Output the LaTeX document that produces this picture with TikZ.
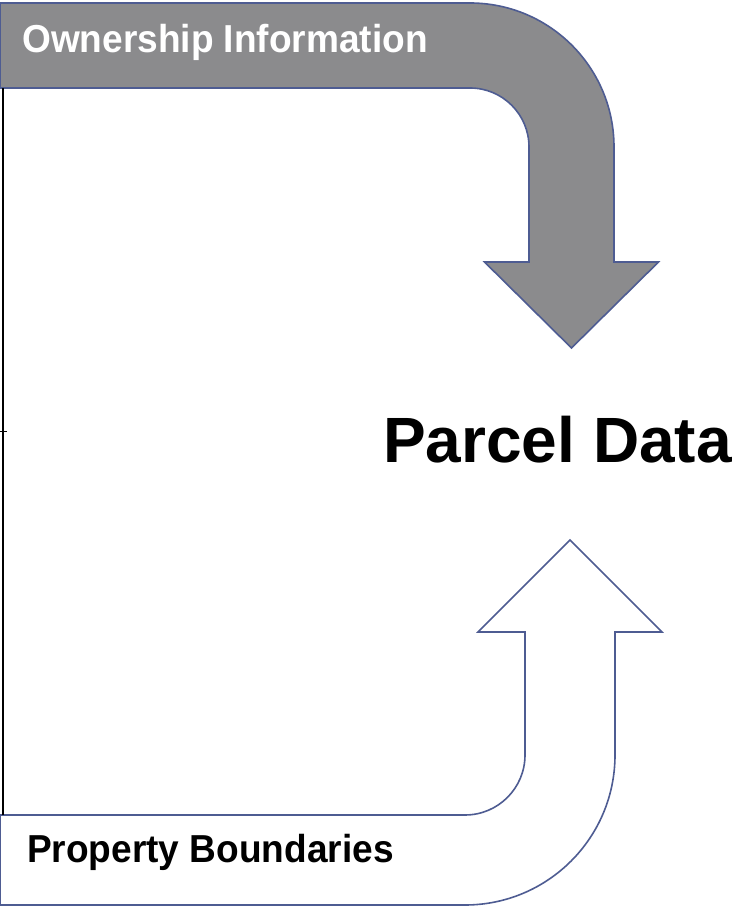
\documentclass[tikz,border=0pt]{standalone}
\usepackage{fontspec}
\setmainfont{Liberation Sans}
\newfontfamily\narrowfont[FakeStretch=0.95]{Liberation Sans}
\usepackage{tikz}
\usetikzlibrary{arrows, positioning}
\usepackage{xcolor}
\definecolor{arrowgray}{RGB}{139,139,141}
\definecolor{arrowedge}{RGB}{78,92,146}

\begin{document}
\begin{tikzpicture}[x=1pt,y=1pt]
    \tikzstyle{bentarrow}=[draw=arrowedge,line width=1.6pt,line join=miter]
    \tikzstyle{label}=[inner sep=0pt,anchor=base west]

    \useasboundingbox (0,0) rectangle (743,908);

    % ownership arrow (top, grey)
    \path[bentarrow, fill=arrowgray]
    (0,905) -- (470,905) arc[start angle=90,end angle=0,radius=144]
    -- (614,646) -- (658.5,646) -- (571.5,560) -- (484.5,646) -- (529,646)
    -- (529,761) arc[start angle=0,end angle=90,radius=59]
    -- (0,820) -- cycle;

    % boundaries arrow (bottom, white)
    \path[bentarrow, fill=white]
    (0,93) -- (465,93) arc[start angle=-90,end angle=0,radius=60]
    -- (525,276) -- (478,276) -- (570,368) -- (662,276) -- (615,276)
    -- (615,153) arc[start angle=0,end angle=-90,radius=150]
    -- (0,3) -- cycle;

    % left margin line
    \coordinate (L0) at (3,820);
    \coordinate (L1) at (3,93);
    \coordinate (T0) at (0,476);
    \coordinate (T1) at (7,476);
    \draw[black, line width=2.4pt] (L0) -- (L1);
    \draw[black, line width=1pt] (T0) -- (T1);

    \node[label, text=white] (owner) at (22,855)
        {\narrowfont\bfseries\fontsize{39}{39}\selectfont Ownership Information};
    \node[label] (parcel) at (383,445)
        {\bfseries\fontsize{64}{64}\selectfont Parcel Data};
    \node[label] (boundary) at (27,45)
        {\narrowfont\bfseries\fontsize{39}{39}\selectfont Property Boundaries};
\end{tikzpicture}
\end{document}
